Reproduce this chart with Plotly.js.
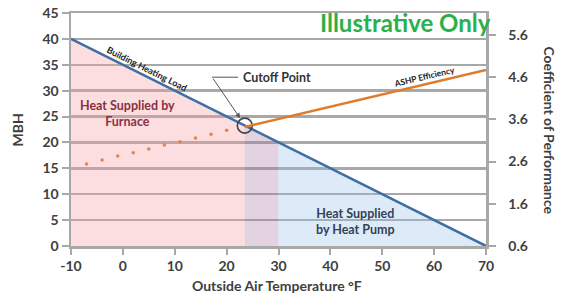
<!DOCTYPE html>
<html>
<head>
<meta charset="utf-8">
<script src="https://cdn.plot.ly/plotly-3.0.1.min.js"></script>
<style>html,body{margin:0;padding:0;background:#fff}#chart{width:563px;height:305px}</style>
</head>
<body>
<div id="chart"></div>
<script>
// Building heating load (MBH) vs outside air temperature (°F)
var loadTemps = [-10, 23.5, 30, 70];
var loadMBH   = [40, 23.25, 20, 0];
// Cutoff point
var cutoffTemp = 23.5;
var cutoffMBH = 23.25;
// ASHP COP below cutoff (dotted) and above cutoff (solid)
var copDotTemps = [-7, -4, -1, 2, 5, 8, 11, 14, 17, 20];
var copDotVals  = [2.54, 2.64, 2.73, 2.81, 2.90, 2.99, 3.07, 3.16, 3.25, 3.34];
var copLineTemps = [23.5, 70];
var copLineVals  = [3.42, 4.77];
// Tick labels
var xTicks = [-10, 0, 10, 20, 30, 40, 50, 60, 70];
var xTickText = ['-10', '0', '10', '20', '30', '40', '50', '60', '70'];
var yTicks = [0, 5, 10, 15, 20, 25, 30, 35, 40, 45];
var y2Ticks = [0.6, 1.6, 2.6, 3.6, 4.6, 5.6];
var y2TickText = ['0.6', '1.6', '2.6', '3.6', '4.6', '5.6'];

var FONT = 'Lato, "Open Sans", sans-serif';
var GRID = '#a8a8a8';
var TXT = '#404040';

var traces = [
  {x: loadTemps.slice(0, 2), y: loadMBH.slice(0, 2), mode: 'none', fill: 'tozeroy',
   fillcolor: 'rgba(245,160,170,0.35)', hoverinfo: 'skip', showlegend: false},
  {x: loadTemps.slice(1, 3), y: loadMBH.slice(1, 3), mode: 'none', fill: 'tozeroy',
   fillcolor: 'rgba(170,120,160,0.33)', hoverinfo: 'skip', showlegend: false},
  {x: loadTemps.slice(2, 4), y: loadMBH.slice(2, 4), mode: 'none', fill: 'tozeroy',
   fillcolor: 'rgba(150,190,230,0.32)', hoverinfo: 'skip', showlegend: false},
  {x: loadTemps, y: loadMBH, mode: 'lines', line: {color: '#3e6ea5', width: 2.5}, showlegend: false},
  {x: copDotTemps, y: copDotVals, yaxis: 'y2', mode: 'markers',
   marker: {color: '#e3854a', size: 3.5}, showlegend: false},
  {x: copLineTemps, y: copLineVals, yaxis: 'y2', mode: 'lines',
   line: {color: '#e07b2a', width: 2.5}, showlegend: false},
  {x: [cutoffTemp], y: [cutoffMBH], mode: 'markers',
   marker: {symbol: 'circle-open', size: 15, color: '#444', line: {width: 1.6, color: '#444'}}, showlegend: false}
];

var layout = {
  width: 563, height: 305,
  margin: {l: 71, r: 77, t: 13, b: 59},
  paper_bgcolor: '#fff', plot_bgcolor: '#fff',
  font: {family: FONT, color: TXT},
  xaxis: {
    range: [-10, 70], tickvals: xTicks, ticktext: xTickText, showgrid: false, zeroline: false,
    showline: true, linecolor: GRID, linewidth: 2.5, mirror: true,
    ticks: 'outside', ticklen: 6, tickwidth: 2, tickcolor: GRID,
    tickfont: {family: FONT, size: 14, color: TXT, weight: 'bold'}
  },
  yaxis: {
    range: [0, 45], tickvals: yTicks, showgrid: true, gridcolor: GRID, gridwidth: 2.5,
    zeroline: false, showline: true, linecolor: GRID, linewidth: 2.5,
    ticks: 'outside', ticklen: 7, tickwidth: 2, tickcolor: GRID,
    tickfont: {family: FONT, size: 14, color: TXT, weight: 'bold'}
  },
  yaxis2: {
    overlaying: 'y', side: 'right', range: [0.6, 6.12],
    tickvals: y2Ticks, ticktext: y2TickText, showgrid: false, zeroline: false,
    showline: true, linecolor: GRID, linewidth: 2.5,
    ticks: 'outside', ticklen: 7, tickwidth: 2, tickcolor: GRID, ticklabelstandoff: 10,
    tickfont: {family: FONT, size: 14, color: TXT, weight: 'bold'}
  },
  shapes: [
    {type: 'line', xref: 'x', yref: 'y', x0: 17.2, y0: 32.6, x1: 22.2, y1: 32.6,
     line: {color: '#555', width: 1}}
  ],
  annotations: [
    {xref: 'paper', yref: 'paper', x: -0.128, y: 0.5, text: 'MBH', textangle: -90, showarrow: false,
     xanchor: 'center', yanchor: 'middle',
     font: {family: FONT, size: 14, color: TXT, weight: 'bold'}},
    {xref: 'paper', yref: 'paper', x: 0.496, y: -0.168, text: 'Outside Air Temperature °F', showarrow: false,
     xanchor: 'center', yanchor: 'middle',
     font: {family: FONT, size: 14, color: TXT, weight: 'bold'}},
    {xref: 'paper', yref: 'paper', x: 1.153, y: 0.494, text: 'Coefficient of Performance', textangle: 90, showarrow: false,
     xanchor: 'center', yanchor: 'middle',
     font: {family: FONT, size: 14, color: TXT, weight: 'bold'}},
    {xref: 'x', yref: 'y', x: 54.5, y: 43.2, text: 'Illustrative Only', showarrow: false,
     font: {family: FONT, size: 24, color: '#2bb04a', weight: 'bold'}},
    {xref: 'x', yref: 'y', x: 0.8, y: 25.6, text: 'Heat Supplied by<br>Furnace', showarrow: false,
     font: {family: FONT, size: 12.5, color: '#8b3040', weight: 'bold'}},
    {xref: 'x', yref: 'y', x: 44.8, y: 4.8, text: 'Heat Supplied<br>by Heat Pump', showarrow: false,
     font: {family: FONT, size: 12.5, color: '#33435a', weight: 'bold'}},
    {xref: 'x', yref: 'y', x: 4.6, y: 34.3, text: 'Building Heating Load', textangle: 26.6, showarrow: false,
     font: {family: FONT, size: 9, color: '#222', weight: 'bold'}},
    {xref: 'x', yref: 'y', x: 58, y: 32.6, text: 'ASHP Efficiency', textangle: -13.3, showarrow: false,
     font: {family: FONT, size: 8.5, color: '#222', weight: 'bold'}},
    {xref: 'x', yref: 'y', x: 29.8, y: 32.5, text: 'Cutoff Point', showarrow: false,
     font: {family: FONT, size: 12.5, color: '#333', weight: 'bold'}},
    {xref: 'x', yref: 'y', x: 22.6, y: 24.7, axref: 'x', ayref: 'y', ax: 17.2, ay: 32.6, text: '',
     showarrow: true, arrowhead: 2, arrowsize: 1, arrowwidth: 1, arrowcolor: '#555'}
  ]
};

Plotly.newPlot('chart', traces, layout, {displayModeBar: false, staticPlot: true});
</script>
</body>
</html>
